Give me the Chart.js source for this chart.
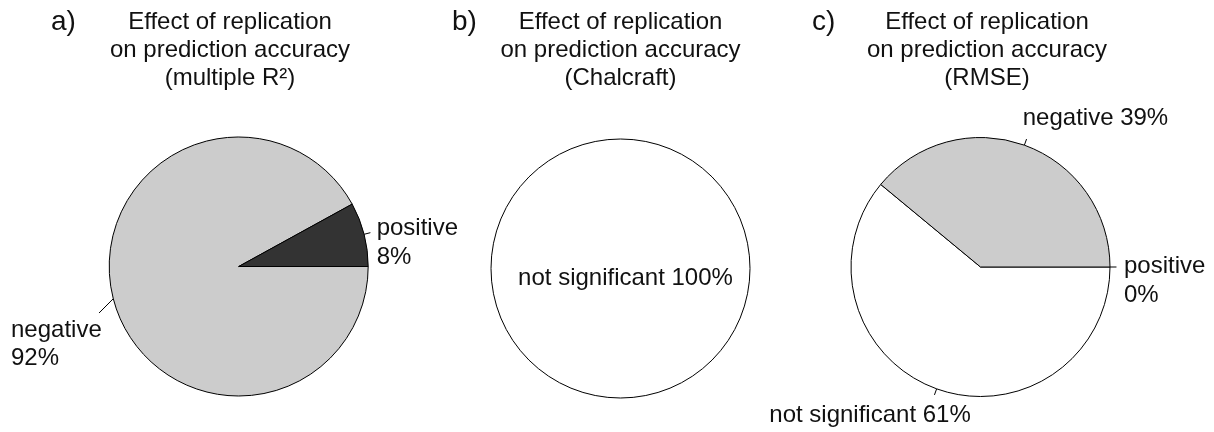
<!DOCTYPE html>
<html><head><meta charset="utf-8">
<script src="https://cdn.jsdelivr.net/npm/chart.js@4/dist/chart.umd.min.js"></script>
<style>
html,body{margin:0;padding:0;background:#fff;}
#wrap{position:relative;width:1214px;height:432px;overflow:hidden;background:#fff;}
#wrap canvas{position:absolute;left:0;top:0;}
</style></head><body>
<div id="wrap">
<canvas id="ca" width="1214" height="432"></canvas>
<canvas id="cb" width="1214" height="432"></canvas>
<canvas id="cc" width="1214" height="432"></canvas>
</div>
<script>
// ---- data ----
const titleLines = ['Effect of replication', 'on prediction accuracy'];
const panelLetters = ['a)', 'b)', 'c)'];
const metricNames = ['(multiple R²)', '(Chalcraft)', '(RMSE)'];
const categoriesA = ['positive', 'negative'];
const valuesA = [8, 92];
const categoriesB = ['not significant'];
const valuesB = [100];
const categoriesC = ['positive', 'negative', 'not significant'];
const valuesC = [0, 39, 61];

// ---- styles ----
const fillByCategory = { 'positive': '#333333', 'negative': '#cccccc', 'not significant': '#ffffff' };
const W = 1214, H = 432, RADIUS = 129.5, BOX = 135;
const FONT = '"Liberation Sans", Arial, Helvetica, sans-serif';
const TEXT = '#111111';
const LH = 28.5;

const pieText = {
  id: 'pieText',
  afterDatasetsDraw(chart, args, opts) {
    const ctx = chart.ctx;
    const arcs = chart.getDatasetMeta(0).data;
    const el0 = arcs[0];
    const cx = el0.x, cy = el0.y, R = el0.outerRadius;
    ctx.save();
    ctx.strokeStyle = '#000';
    ctx.lineWidth = 1;
    if (opts.outline) {
      ctx.beginPath();
      ctx.arc(cx, cy, R, 0, Math.PI * 2);
      ctx.stroke();
    }
    ctx.fillStyle = TEXT;
    ctx.textBaseline = 'alphabetic';
    // title
    ctx.font = '24px ' + FONT;
    ctx.textAlign = 'center';
    opts.title.forEach((line, i) => ctx.fillText(line, cx + opts.titleDx, 28.5 + i * 28.25));
    // panel letter
    ctx.font = '28px ' + FONT;
    ctx.textAlign = 'left';
    ctx.fillText(opts.letter, cx + opts.letterDx, 30);
    // slice labels
    ctx.font = '24px ' + FONT;
    const labels = chart.data.labels;
    const values = chart.data.datasets[0].data;
    arcs.forEach((el, i) => {
      const cfg = opts.labels[labels[i]];
      if (!cfg) return;
      const mid = (el.startAngle + el.endAngle) / 2;
      let ax, ay;
      if (cfg.center) { ax = cx; ay = cy; }
      else {
        ax = cx + 1.1 * R * Math.cos(mid);
        ay = cy + 1.1 * R * Math.sin(mid);
        const sx = cx + R * Math.cos(mid), sy = cy + R * Math.sin(mid);
        let ex, ey;
        if (cfg.leaderTo) { ex = ax + cfg.leaderTo[0]; ey = ay + cfg.leaderTo[1]; }
        else { ex = cx + 1.05 * R * Math.cos(mid); ey = cy + 1.05 * R * Math.sin(mid); }
        ctx.beginPath(); ctx.moveTo(sx, sy); ctx.lineTo(ex, ey); ctx.stroke();
      }
      const lines = cfg.split ? [labels[i], values[i] + '%'] : [labels[i] + ' ' + values[i] + '%'];
      let x = ax + cfg.dx;
      if (cfg.block === 'right') {
        // right-align the block as a whole, lines left-justified inside it
        const bw = Math.max(...lines.map(t => ctx.measureText(t).width));
        x -= bw;
        ctx.textAlign = 'left';
      } else {
        ctx.textAlign = cfg.align;
      }
      lines.forEach((t, k) => ctx.fillText(t, x, ay + cfg.dy + k * LH));
    });
    ctx.restore();
  }
};

function makePie(id, idx, cats, vals, center, textOpts) {
  // R draws slices counter-clockwise from 3 o'clock; Chart.js goes clockwise, so reverse order
  const order = cats.map((c, i) => i).reverse();
  new Chart(document.getElementById(id), {
    type: 'pie',
    data: {
      labels: order.map(i => cats[i]),
      datasets: [{
        data: order.map(i => vals[i]),
        backgroundColor: order.map(i => fillByCategory[cats[i]]),
        borderColor: '#000000',
        borderWidth: textOpts.outline ? 0 : 1,
        rotation: 90,
        radius: RADIUS,
        hoverOffset: 0
      }]
    },
    options: {
      responsive: false,
      animation: false,
      events: [],
      rotation: 90,
      radius: RADIUS,
      layout: { padding: {
        left: center[0] - BOX, right: W - center[0] - BOX,
        top: center[1] - BOX, bottom: H - center[1] - BOX } },
      plugins: {
        legend: { display: false },
        tooltip: { enabled: false },
        pieText: Object.assign({
          title: [titleLines[0], titleLines[1], metricNames[idx]],
          letter: panelLetters[idx]
        }, textOpts)
      }
    },
    plugins: [pieText]
  });
}

makePie('ca', 0, categoriesA, valuesA, [238.7, 266.5], {
  titleDx: -8.7, letterDx: -187.7,
  labels: {
    'positive': { split: true, align: 'left', dx: 0, dy: 4 },
    'negative': { split: true, block: 'right', dx: 1, dy: 35, leaderTo: [-1.7, 11.1] }
  }
});
makePie('cb', 1, categoriesB, valuesB, [620.5, 268.5], {
  titleDx: 0, letterDx: -168.5, outline: true,
  labels: {
    'not significant': { split: false, center: true, align: 'center', dx: 5, dy: 16.5 }
  }
});
makePie('cc', 2, categoriesC, valuesC, [980.5, 267], {
  titleDx: 6.5, letterDx: -168.5,
  labels: {
    'positive': { split: true, align: 'left', dx: 1, dy: 6 },
    'negative': { split: false, align: 'left', dx: -6, dy: -8 },
    'not significant': { split: false, align: 'right', dx: 38.5, dy: 20.5 }
  }
});
</script>
</body></html>
